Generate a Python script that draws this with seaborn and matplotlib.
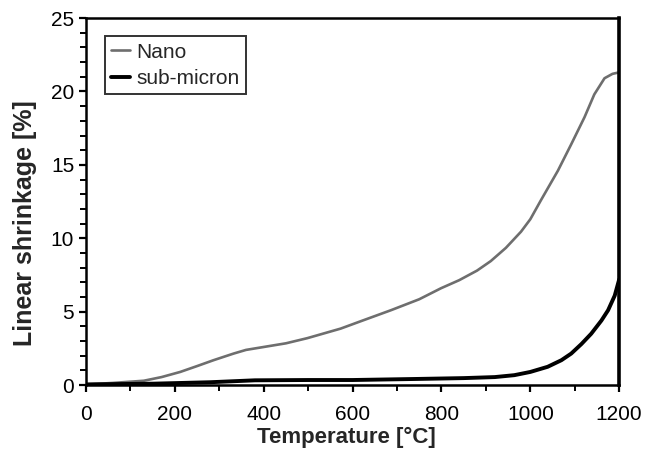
import matplotlib
matplotlib.use("Agg")
import matplotlib.pyplot as plt
from matplotlib.ticker import MultipleLocator
import pandas as pd
import seaborn as sns

# Dilatometer runs: linear shrinkage vs. temperature
temp_nano = [0, 60, 130, 170, 212, 250, 287, 332, 360, 400, 450, 498, 573, 618,
             686, 750, 799, 840, 880, 911, 945, 962, 979, 1000, 1024, 1062,
             1092, 1122, 1144, 1167, 1185, 1200]
shrink_nano = [0.05, 0.15, 0.3, 0.55, 0.9, 1.3, 1.7, 2.15, 2.4, 2.6, 2.85, 3.2,
               3.85, 4.35, 5.1, 5.85, 6.6, 7.15, 7.8, 8.45, 9.35, 9.9, 10.45,
               11.3, 12.6, 14.6, 16.4, 18.25, 19.8, 20.9, 21.2, 21.3]

temp_sub = [0, 150, 280, 380, 500, 600, 740, 850, 920, 964, 1000, 1039, 1070,
            1092, 1115, 1137, 1160, 1175, 1190, 1200]
shrink_sub = [0.05, 0.1, 0.2, 0.33, 0.35, 0.35, 0.42, 0.48, 0.55, 0.68, 0.9,
              1.25, 1.7, 2.15, 2.8, 3.5, 4.4, 5.1, 6.1, 7.2]

series_names = ["Nano", "sub-micron"]
x_ticks = [0, 200, 400, 600, 800, 1000, 1200]
y_ticks = [0, 5, 10, 15, 20, 25]

sns.set_theme(style="white")
plt.rcParams["font.family"] = ["Liberation Sans", "DejaVu Sans"]

fig = plt.figure(figsize=(6.47, 4.51), dpi=100)
ax = fig.add_axes([0.133, 0.146, 0.824, 0.814])

nano_df = pd.DataFrame({"T": temp_nano, "s": shrink_nano})
sub_df = pd.DataFrame({"T": temp_sub, "s": shrink_sub})

sns.lineplot(data=nano_df, x="T", y="s", ax=ax, color="#6e6e6e", lw=1.9,
             label=series_names[0], sort=False)
sns.lineplot(data=sub_df, x="T", y="s", ax=ax, color="black", lw=2.8,
             label=series_names[1], sort=False)

ax.set_xlim(0, 1200)
ax.set_ylim(0, 25)
ax.set_xticks(x_ticks)
ax.set_xticklabels([str(t) for t in x_ticks])
ax.set_yticks(y_ticks)
ax.set_yticklabels([str(t) for t in y_ticks])
ax.xaxis.set_minor_locator(MultipleLocator(100))
ax.yaxis.set_minor_locator(MultipleLocator(1))
ax.tick_params(which="both", direction="out", length=5, width=1.6,
               colors="black", labelsize=15, bottom=True, left=True,
               top=False, right=False)
ax.tick_params(which="minor", length=4, width=1.4)
ax.tick_params(axis="x", which="major", pad=9)

for side in ["left", "bottom", "top"]:
    ax.spines[side].set_color("black")
    ax.spines[side].set_linewidth(1.8)
ax.spines["right"].set_color("black")
ax.spines["right"].set_linewidth(2.6)

ax.set_xlabel("Temperature [°C]", fontsize=16, fontweight="bold", va="top")
ax.set_ylabel("Linear shrinkage [%]", fontsize=18, fontweight="bold")
ax.xaxis.set_label_coords(0.489, -0.115)
ax.yaxis.set_label_coords(-0.092, 0.44)

leg = ax.legend(loc="upper left", bbox_to_anchor=(0.036, 0.95), fontsize=15,
                handlelength=0.9, handletextpad=0.3, borderpad=0.3,
                borderaxespad=0.0, labelspacing=0.35, fancybox=False,
                frameon=True)
leg.get_frame().set_edgecolor("black")
leg.get_frame().set_linewidth(1.4)

fig.savefig("out.png", dpi=100)
